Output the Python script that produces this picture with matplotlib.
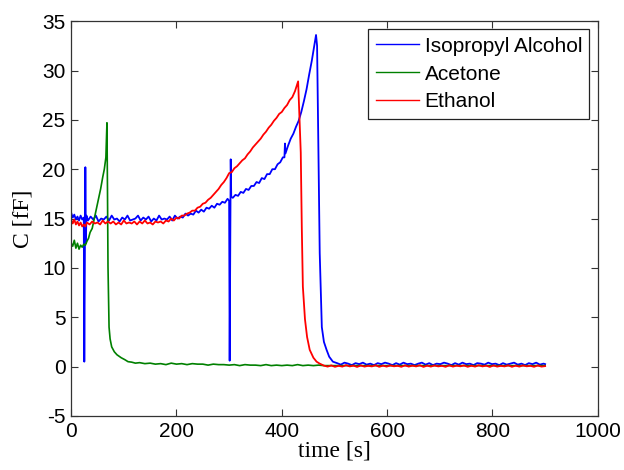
import matplotlib
matplotlib.use("Agg")
import matplotlib.pyplot as plt

# ---------------------------------------------------------------
# capacitance response to three solvents
# ---------------------------------------------------------------

ipa_t = [0, 3, 6, 9, 12, 15, 18, 21, 24, 25, 26, 27, 28, 29,
         32, 37, 42, 47, 52, 57, 62, 67, 72, 77, 82, 87, 92, 97,
         102, 107, 112, 117, 122, 127, 132, 137, 142, 147, 152, 157,
         162, 167, 172, 177, 182, 187, 192, 197, 202, 207, 212, 217,
         222, 227, 232, 237, 242, 247, 252, 257, 262, 267, 272, 277,
         282, 287, 292, 297, 300, 301, 302, 303, 304,
         307, 312, 317, 322, 327, 332, 337, 342, 347, 352, 357, 362,
         367, 372, 377, 382, 387, 392, 397, 402, 405, 406, 407, 412,
         417, 422, 427, 432, 437, 442, 447, 452, 457, 461, 465, 467,
         469, 472, 476, 480, 485, 490, 497,
         505, 512, 519, 526, 533, 540, 547, 554, 561, 568, 575, 582,
         589, 596, 603, 610, 617, 624, 631, 638, 645, 652, 659, 666,
         673, 680, 687, 694, 701, 708, 715, 722, 729, 736, 743, 750,
         757, 764, 771, 778, 785, 792, 799, 806, 813, 820, 827, 834,
         841, 848, 855, 862, 869, 876, 883, 890, 897, 900]
ipa_c = [15.6, 15.1, 15.4, 14.9, 15.2, 14.8, 15.3, 14.9, 15.1, 0.5, 10.6, 20.2, 12.5, 15.3,
         14.8, 15.2, 14.9, 15.3, 14.7, 15.0, 14.9, 15.2, 14.8, 15.3, 14.9, 15.0, 14.7, 15.1,
         14.9, 15.3, 14.8, 14.9, 15.0, 15.3, 14.8, 15.1, 14.9, 15.2, 14.7, 15.0,
         14.8, 15.3, 14.9, 15.0, 14.9, 15.2, 14.8, 15.3, 15.0, 15.2, 15.1, 15.5,
         15.3, 15.5, 15.4, 15.8, 15.6, 15.9, 15.7, 16.1, 16.0, 16.3, 16.1, 16.5,
         16.4, 16.7, 16.6, 17.0, 16.8, 0.6, 11.0, 21.0, 17.2,
         17.1, 17.4, 17.3, 17.7, 17.6, 18.0, 17.9, 18.3, 18.3, 18.7, 18.6, 19.1,
         19.0, 19.5, 19.5, 20.0, 20.0, 20.5, 20.7, 21.2, 21.2, 22.6, 21.6, 22.4,
         23.1, 23.6, 24.3, 24.9, 25.8, 26.9, 28.1, 29.6, 31.0, 32.3, 33.6, 32.5,
         24.0, 11.5, 4.0, 2.5, 1.7, 1.0, 0.5,
         0.35, 0.2, 0.4, 0.3, 0.15, 0.35, 0.25, 0.4, 0.2, 0.3, 0.15, 0.35,
         0.25, 0.4, 0.3, 0.15, 0.35, 0.2, 0.4, 0.25, 0.3, 0.15, 0.3, 0.4,
         0.2, 0.35, 0.15, 0.3, 0.25, 0.4, 0.3, 0.15, 0.35, 0.2, 0.4, 0.25,
         0.3, 0.15, 0.35, 0.3, 0.2, 0.4, 0.25, 0.3, 0.15, 0.35, 0.2, 0.3,
         0.4, 0.2, 0.3, 0.15, 0.35, 0.25, 0.4, 0.2, 0.3, 0.25]

acetone_t = [0, 3, 6, 9, 12, 15, 18, 21, 24, 27, 30, 33, 36, 40, 44, 48,
             52, 56, 60, 63, 66, 67, 68, 69, 70, 72, 74, 77, 82, 87, 95,
             102, 108, 115, 122, 130, 140,
             150, 160, 170, 180, 190, 200, 210, 220, 230, 240, 250, 260,
             270, 280, 290, 300, 310, 320, 330, 340, 350, 360, 370, 380,
             390, 400, 410, 420, 430, 440, 450, 460, 470, 480, 490, 500,
             550, 600, 650, 700, 750, 800, 850, 900]
acetone_c = [12.5, 12.2, 12.8, 12.0, 12.5, 11.9, 12.3, 12.1, 12.4, 12.3, 12.7, 13.0, 13.6, 14.0, 15.0, 16.0,
             17.0, 18.0, 19.2, 20.0, 21.2, 23.0, 24.7, 18.0, 10.1, 4.0, 2.8, 2.0, 1.5, 1.2, 0.9,
             0.7, 0.5, 0.45, 0.35, 0.4, 0.3,
             0.35, 0.25, 0.3, 0.2, 0.35, 0.25, 0.3, 0.2, 0.3, 0.25, 0.25, 0.15,
             0.25, 0.2, 0.2, 0.15, 0.2, 0.1, 0.2, 0.15, 0.15, 0.1, 0.2, 0.1,
             0.15, 0.1, 0.15, 0.1, 0.2, 0.1, 0.15, 0.1, 0.15, 0.1, 0.1, 0.1,
             0.1, 0.1, 0.1, 0.1, 0.1, 0.1, 0.1, 0.1]

ethanol_t = [0, 3, 6, 9, 12, 15, 18, 21, 24, 27, 30, 35, 40, 45, 50, 55,
             60, 65, 70, 75, 80, 85, 90, 95, 100, 105, 110, 115, 120, 125,
             130, 135, 140, 145, 150, 155, 160, 165, 170, 175, 180, 185,
             190, 195, 200, 205, 210, 215, 220, 225, 230, 235, 240, 245,
             250, 255, 260, 265, 270, 275, 280, 285, 290, 295, 300, 305,
             310, 315, 320, 325, 330, 335, 340, 345, 350, 355, 360, 365,
             370, 375, 380, 385, 390, 395, 400, 405, 410, 415, 420, 425,
             431, 433, 436, 438, 440, 444, 448, 453, 460, 466, 472,
             480, 487, 494, 501, 508, 515, 522, 529, 536, 543, 550, 557,
             564, 571, 578, 585, 592, 599, 606, 613, 620, 627, 634, 641,
             648, 655, 662, 669, 676, 683, 690, 697, 704, 711, 718, 725,
             732, 739, 746, 753, 760, 767, 774, 781, 788, 795, 802, 809,
             816, 823, 830, 837, 844, 851, 858, 865, 872, 879, 886, 893, 900]
ethanol_c = [14.9, 14.5, 14.9, 14.4, 14.7, 14.3, 14.6, 14.2, 14.4, 14.2, 14.6, 14.4, 14.7, 14.5, 14.6, 14.4,
             14.8, 14.5, 14.7, 14.5, 14.7, 14.4, 14.6, 14.4, 14.8, 14.5, 14.6, 14.5, 14.7, 14.4,
             14.7, 14.5, 14.8, 14.5, 14.6, 14.4, 14.7, 14.6, 14.7, 14.5, 14.8, 14.7,
             15.0, 14.8, 15.1, 15.0, 15.3, 15.3, 15.5, 15.6, 15.8, 15.8, 16.1, 16.2,
             16.5, 16.6, 16.9, 17.1, 17.4, 17.7, 18.0, 18.4, 18.7, 19.1, 19.6, 19.7,
             20.1, 20.3, 20.6, 20.9, 21.1, 21.5, 21.8, 22.2, 22.5, 22.8, 23.1, 23.5,
             23.8, 24.2, 24.5, 24.9, 25.2, 25.6, 25.8, 26.2, 26.5, 27.0, 27.3, 27.9,
             28.9, 26.0, 21.7, 14.0, 8.1, 4.8, 3.0, 1.7, 0.9, 0.5, 0.3,
             0.1, 0.0, 0.12, -0.02, 0.08, 0.0, 0.15, 0.02, 0.1, -0.03, 0.12, 0.0,
             0.08, 0.02, 0.14, -0.02, 0.1, 0.0, 0.12, 0.03, 0.08, -0.02, 0.13, 0.0,
             0.1, 0.02, 0.14, -0.03, 0.1, 0.0, 0.12, 0.02, 0.08, -0.02, 0.13, 0.0,
             0.1, 0.03, 0.12, -0.02, 0.09, 0.0, 0.14, 0.02, 0.1, -0.03, 0.12, 0.0,
             0.08, 0.02, 0.13, -0.02, 0.1, 0.0, 0.12, 0.03, 0.08, -0.02, 0.12, 0.0, 0.05]

x_ticks = [0, 200, 400, 600, 800, 1000]
y_ticks = [-5, 0, 5, 10, 15, 20, 25, 30, 35]

fig = plt.figure(figsize=(6.24, 4.70), dpi=100)
ax = fig.add_axes([0.114, 0.115, 0.844, 0.84])

ax.plot(ipa_t, ipa_c, color=(0, 0, 1), lw=1.3, label='Isopropyl Alcohol')
ax.plot(acetone_t, acetone_c, color=(0, 0.5, 0), lw=1.2, label='Acetone')
ax.plot(ethanol_t, ethanol_c, color=(1, 0, 0), lw=1.3, label='Ethanol')

ax.set_xlim(0, 1000)
ax.set_ylim(-5, 35)
ax.set_xticks(x_ticks)
ax.set_yticks(y_ticks)

tick_font = dict(family='Liberation Sans', size=15)
ax.set_xticklabels([str(v) for v in x_ticks], fontdict=tick_font)
ax.set_yticklabels([str(v) for v in y_ticks], fontdict=tick_font)
ax.tick_params(direction='in', top=True, right=True, length=5, width=0.8,
               color='#333333', pad=4)
for s in ax.spines.values():
    s.set_color('#333333')
    s.set_linewidth(0.9)

ax.set_xlabel('time [s]', family='Liberation Serif', fontsize=17, labelpad=0)
ax.set_ylabel('C [fF]', family='Liberation Serif', fontsize=17, labelpad=6)

leg = ax.legend(loc='upper right', prop={'family': 'Liberation Sans', 'size': 15},
                fancybox=False, framealpha=1, edgecolor='#222222',
                borderaxespad=0.4, handlelength=2.1, handletextpad=0.25,
                labelspacing=0.42, borderpad=0.35)
leg.get_frame().set_linewidth(0.9)
for h in leg.get_lines():
    h.set_linewidth(1.0)

fig.savefig('out.png', dpi=100)
